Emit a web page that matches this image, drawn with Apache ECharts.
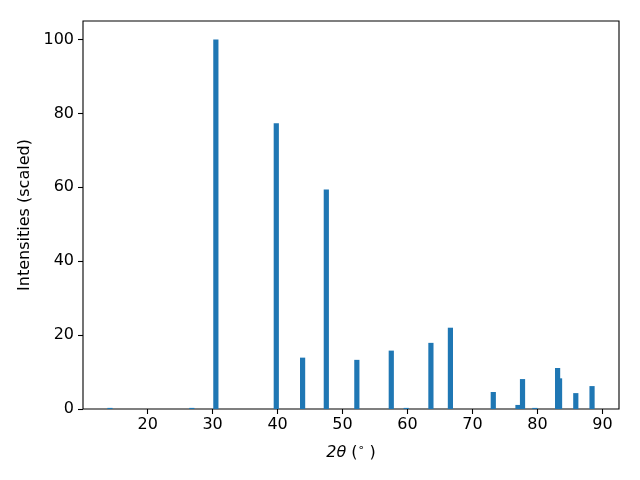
<!DOCTYPE html>
<html>
<head>
<meta charset="utf-8">
<script src="https://cdn.jsdelivr.net/npm/echarts@6/dist/echarts.min.js"></script>
<style>html,body{margin:0;padding:0;background:#fff;}#c{width:640px;height:480px;}</style>
</head>
<body>
<div id="c"></div>
<script>
// 2θ peak positions (degrees) and scaled intensities
var twoTheta = [14.2, 26.8, 30.5, 39.8, 43.85, 47.5, 52.2, 57.5, 59.8, 63.6, 66.6, 73.2, 77.0, 77.7, 79.6, 83.1, 83.4, 85.9, 88.4];
var intensities = [0.3, 0.3, 100, 77.3, 13.9, 59.4, 13.3, 15.8, 0.3, 17.9, 22.0, 4.6, 1.1, 8.1, 0.3, 11.1, 8.3, 4.3, 6.2];
var xTicks = [20, 30, 40, 50, 60, 70, 80, 90];
var yTicks = [0, 20, 40, 60, 80, 100];
var barWidthDeg = 0.8;

var data = twoTheta.map(function (x, i) { return [x, intensities[i]]; });
var chart = echarts.init(document.getElementById('c'), null, {renderer: 'canvas'});
var font = 'DejaVu Sans';
chart.setOption({
  animation: false,
  backgroundColor: '#fff',
  grid: {left: 83, right: 21, top: 21, bottom: 71, show: true, borderColor: '#000', borderWidth: 1.1, backgroundColor: 'transparent'},
  xAxis: {
    type: 'value', min: 10.05, max: 92.55,
    interval: 10,
    name: '{i|2θ} {n|(}{s|∘}{n| )}',
    nameLocation: 'middle', nameGap: 34,
    nameTextStyle: {
      color: '#000', fontFamily: font, fontSize: 16,
      rich: {
        i: {fontFamily: font, fontSize: 16, fontStyle: 'italic', color: '#000'},
        n: {fontFamily: font, fontSize: 16, color: '#000'},
        s: {fontFamily: font, fontSize: 11, color: '#000', verticalAlign: 'top', padding: [0, 0, 8, 0]}
      }
    },
    axisLine: {show: false},
    axisTick: {show: true, inside: false, length: 5, lineStyle: {color: '#000', width: 1.1}, customValues: xTicks},
    axisLabel: {color: '#000', fontFamily: font, fontSize: 16, margin: 8, customValues: xTicks},
    splitLine: {show: false}
  },
  yAxis: {
    type: 'value', min: 0, max: 105,
    name: 'Intensities (scaled)',
    nameLocation: 'middle', nameGap: 50,
    nameTextStyle: {color: '#000', fontFamily: font, fontSize: 16},
    axisLine: {show: false},
    axisTick: {show: true, length: 5, lineStyle: {color: '#000', width: 1.1}, customValues: yTicks},
    axisLabel: {color: '#000', fontFamily: font, fontSize: 16, margin: 9, customValues: yTicks},
    splitLine: {show: false}
  },
  series: [{
    type: 'custom',
    data: data,
    clip: true,
    renderItem: function (params, api) {
      var x = api.value(0), y = api.value(1);
      var p0 = api.coord([x - barWidthDeg / 2, 0]);
      var p1 = api.coord([x + barWidthDeg / 2, y]);
      return {
        type: 'rect',
        shape: {x: p0[0], y: p1[1], width: p1[0] - p0[0], height: p0[1] - p1[1]},
        style: {fill: '#1f77b4'}
      };
    },
    encode: {x: 0, y: 1}
  }]
});
</script>
</body>
</html>
